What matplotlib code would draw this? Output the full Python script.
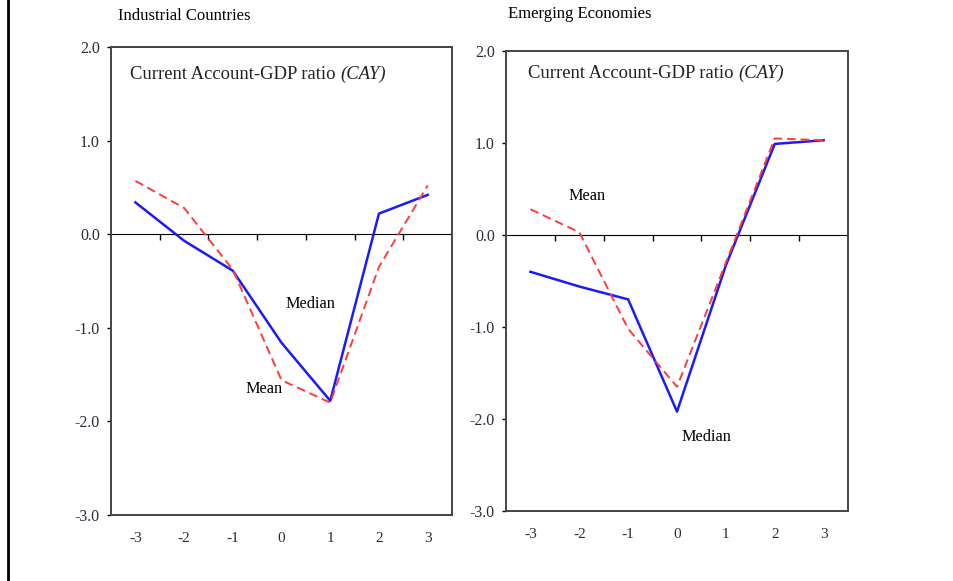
import matplotlib

matplotlib.use("Agg")
import matplotlib.pyplot as plt
from matplotlib.lines import Line2D

plt.rcParams["font.family"] = ["Liberation Serif", "DejaVu Serif"]
plt.rcParams["axes.unicode_minus"] = False

years = [-3, -2, -1, 0, 1, 2, 3]

ind_median = [0.34, -0.07, -0.39, -1.16, -1.78, 0.22, 0.42]
ind_mean = [0.57, 0.28, -0.38, -1.56, -1.80, -0.35, 0.52]

emg_median = [-0.40, -0.56, -0.70, -1.92, -0.33, 0.99, 1.03]
emg_mean = [0.28, 0.03, -1.02, -1.65, -0.30, 1.05, 1.03]

panel_titles = ["Industrial Countries", "Emerging Economies"]
y_ticks = [2.0, 1.0, 0.0, -1.0, -2.0, -3.0]

TICK_COLOR = "#2b2b3a"
BLUE = "#1a1aff"
RED = "#ff3b3b"


def draw_panel(ax, median, mean, median_label_xy, mean_label_xy, title_xy):
    ax.plot(years, median, color=BLUE, lw=1.8, zorder=3)
    ax.plot(years, mean, color=RED, lw=1.4, dashes=(4.5, 2.5), zorder=4)

    ax.set_xlim(-3.5, 3.5)
    ax.set_ylim(-3.0, 2.0)
    ax.set_yticks(y_ticks)
    ax.set_yticklabels([f"{v:.1f}" for v in y_ticks])
    ax.set_xticks(years)
    ax.set_xticklabels([str(v) for v in years])
    ax.tick_params(axis="x", length=0, pad=12, labelsize=11, labelcolor=TICK_COLOR)
    ax.tick_params(axis="y", length=3, width=1, direction="out", pad=5,
                   labelsize=11.5, labelcolor=TICK_COLOR)

    for spine in ax.spines.values():
        spine.set_color("#444444")
        spine.set_linewidth(1.4)

    # zero line with category separators, like a category axis crossing at 0
    zero_axis = ax.secondary_xaxis(0.6)
    zero_axis.set_xticks([-2.5, -1.5, -0.5, 0.5, 1.5, 2.5])
    zero_axis.set_xticklabels([])
    zero_axis.tick_params(direction="in", length=4, width=1)
    zero_axis.spines["bottom"].set_linewidth(1.3)
    zero_axis.spines["bottom"].set_color("#111111")

    ax.text(title_xy[0], title_xy[1], "Current Account-GDP ratio ",
            transform=ax.transAxes, fontsize=13.4, va="center", ha="left",
            color="#222222")
    t = ax.texts[-1]
    ax.annotate("(CAY)", xycoords=t, xy=(1, 0.5), va="center", ha="left",
                fontsize=13.4, style="italic", color="#222222")

    ax.text(*median_label_xy, "Median", fontsize=11.7, ha="center", va="center")
    ax.text(*mean_label_xy, "Mean", fontsize=11.7, ha="center", va="center")


fig = plt.figure(figsize=(9.54, 5.81), dpi=100)

ax_ind = fig.add_axes([0.1164, 0.1136, 0.3574, 0.8055])
ax_emg = fig.add_axes([0.5304, 0.1205, 0.3585, 0.7917])

draw_panel(ax_ind, ind_median, ind_mean, (0.6, -0.75), (-0.35, -1.65),
           (0.056, 0.942))
draw_panel(ax_emg, emg_median, emg_mean, (0.6, -2.2), (-1.85, 0.42),
           (0.064, 0.952))

fig.text(118 / 954, 1 - 16 / 581, panel_titles[0], fontsize=12, va="center")
fig.text(508 / 954, 1 - 14 / 581, panel_titles[1], fontsize=12, va="center")

# page border on the left
fig.add_artist(Line2D([0.0084, 0.0084], [0, 1], transform=fig.transFigure,
                      color="black", lw=2))

fig.savefig("out.png", dpi=100)
